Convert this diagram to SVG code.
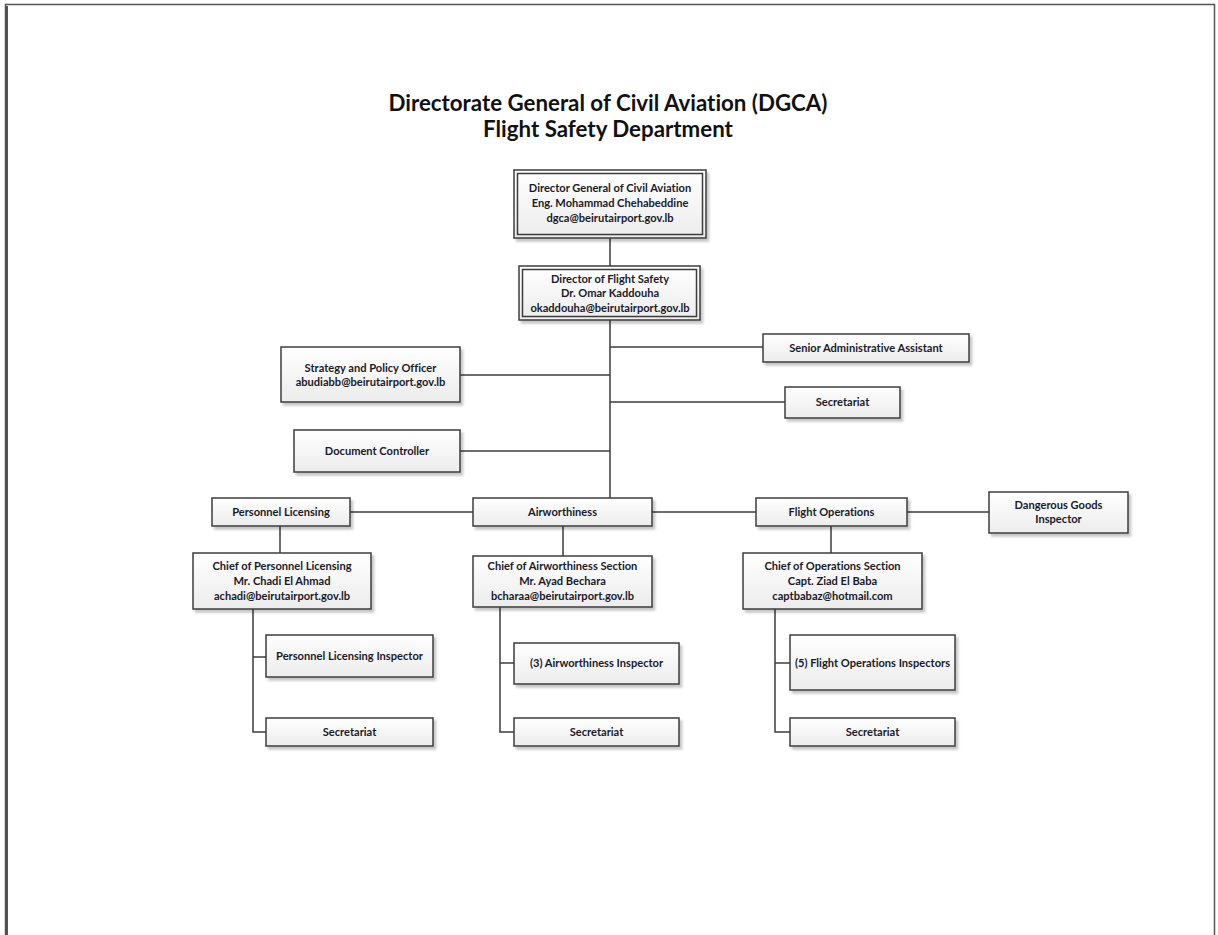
<svg xmlns="http://www.w3.org/2000/svg" width="1218" height="935" viewBox="0 0 1218 935">
<defs>
<linearGradient id="g" x1="0" y1="0" x2="0" y2="1">
<stop offset="0" stop-color="#ffffff"/>
<stop offset="1" stop-color="#ececec"/>
</linearGradient>
<filter id="sh" x="-10%" y="-10%" width="130%" height="140%">
<feDropShadow dx="2.5" dy="3" stdDeviation="1.2" flood-color="#000" flood-opacity="0.22"/>
</filter>
</defs>
<style>
text{font-variant-ligatures:none;font-feature-settings:"liga" 0,"dlig" 0}
.b{fill:url(#g);stroke:#3c3c3c;stroke-width:1.5;filter:url(#sh)}
.bi{fill:none;stroke:#3c3c3c;stroke-width:1.5}
.t{font-family:Lato,"Liberation Sans",sans-serif;font-weight:bold;font-size:11.1px;fill:#1a1a2a;text-anchor:middle}
.h{font-family:Lato,"Liberation Sans",sans-serif;font-weight:bold;font-size:22.3px;fill:#111;text-anchor:middle}
.c{fill:none;stroke:#3c3c3c;stroke-width:1.5}
</style>
<rect width="1218" height="935" fill="#fff"/>
<path d="M5.5 945 V4.5 H1214.5 V945" fill="none" stroke="#555" stroke-width="1.5"/>
<path d="M7 945 V6" fill="none" stroke="#222" stroke-width="1.5"/>
<text class="h" x="608" y="111">Directorate General of Civil Aviation (DGCA)</text>
<text class="h" x="608" y="137">Flight Safety Department</text>
<g id="connectors">
<path class="c" d="M610 238 V266"/>
<path class="c" d="M610 320 V498"/>
<path class="c" d="M610 347 H763"/>
<path class="c" d="M610 402 H785"/>
<path class="c" d="M460 375 H610"/>
<path class="c" d="M460 451 H610"/>
<path class="c" d="M350 512 H473"/>
<path class="c" d="M652 512 H756"/>
<path class="c" d="M907 512 H989"/>
<path class="c" d="M280 526 V553"/>
<path class="c" d="M563 526 V556"/>
<path class="c" d="M831 526 V553"/>
<path class="c" d="M253 609 V732 H266 M253 657 H266"/>
<path class="c" d="M500 607 V732 H514 M500 663 H514"/>
<path class="c" d="M775 609 V732 H790 M775 663 H790"/>
</g>
<g id="dg">
<rect class="b" x="514" y="170" width="192" height="68"/>
<rect class="bi" x="517.5" y="173.5" width="185" height="61"/>
<text class="t" x="610" y="192">Director General of Civil Aviation</text>
<text class="t" x="610" y="207">Eng. Mohammad Chehabeddine</text>
<text class="t" x="610" y="222">dgca@beirutairport.gov.lb</text>
</g>
<g id="dfs">
<rect class="b" x="519" y="266" width="181" height="54"/>
<rect class="bi" x="522.5" y="269.5" width="174" height="47"/>
<text class="t" x="610" y="283">Director of Flight Safety</text>
<text class="t" x="610" y="297">Dr. Omar Kaddouha</text>
<text class="t" x="610" y="312">okaddouha@beirutairport.gov.lb</text>
</g>
<g id="saa">
<rect class="b" x="763" y="334" width="206" height="28"/>
<text class="t" x="866" y="352">Senior Administrative Assistant</text>
</g>
<g id="sec0">
<rect class="b" x="785" y="387" width="115" height="31"/>
<text class="t" x="842.5" y="406">Secretariat</text>
</g>
<g id="spo">
<rect class="b" x="281" y="347" width="179" height="55"/>
<text class="t" x="370.5" y="372">Strategy and Policy Officer</text>
<text class="t" x="370.5" y="386">abudiabb@beirutairport.gov.lb</text>
</g>
<g id="doc">
<rect class="b" x="294" y="430" width="166" height="42"/>
<text class="t" x="377" y="455">Document Controller</text>
</g>
<g id="pl">
<rect class="b" x="212" y="498" width="138" height="28"/>
<text class="t" x="281" y="516">Personnel Licensing</text>
</g>
<g id="aw">
<rect class="b" x="473" y="498" width="179" height="28"/>
<text class="t" x="562.5" y="516">Airworthiness</text>
</g>
<g id="fo">
<rect class="b" x="756" y="498" width="151" height="28"/>
<text class="t" x="831.5" y="516">Flight Operations</text>
</g>
<g id="dgi">
<rect class="b" x="989" y="492" width="139" height="41"/>
<text class="t" x="1058.5" y="509">Dangerous Goods</text>
<text class="t" x="1058.5" y="523">Inspector</text>
</g>
<g id="cpl">
<rect class="b" x="193" y="553" width="178" height="56"/>
<text class="t" x="282" y="570">Chief of Personnel Licensing</text>
<text class="t" x="282" y="585">Mr. Chadi El Ahmad</text>
<text class="t" x="282" y="600">achadi@beirutairport.gov.lb</text>
</g>
<g id="caw">
<rect class="b" x="473" y="556" width="179" height="51"/>
<text class="t" x="562.5" y="570">Chief of Airworthiness Section</text>
<text class="t" x="562.5" y="585">Mr. Ayad Bechara</text>
<text class="t" x="562.5" y="600">bcharaa@beirutairport.gov.lb</text>
</g>
<g id="cop">
<rect class="b" x="743" y="553" width="179" height="56"/>
<text class="t" x="832.5" y="570">Chief of Operations Section</text>
<text class="t" x="832.5" y="585">Capt. Ziad El Baba</text>
<text class="t" x="832.5" y="600">captbabaz@hotmail.com</text>
</g>
<g id="pli">
<rect class="b" x="266" y="635" width="167" height="42"/>
<text class="t" x="349.5" y="660">Personnel Licensing Inspector</text>
</g>
<g id="sec1">
<rect class="b" x="266" y="718" width="167" height="28"/>
<text class="t" x="349.5" y="736">Secretariat</text>
</g>
<g id="awi">
<rect class="b" x="514" y="643" width="165" height="41"/>
<text class="t" x="596.5" y="667">(3) Airworthiness Inspector</text>
</g>
<g id="sec2">
<rect class="b" x="514" y="718" width="165" height="28"/>
<text class="t" x="596.5" y="736">Secretariat</text>
</g>
<g id="foi">
<rect class="b" x="790" y="635" width="165" height="55"/>
<text class="t" x="872.5" y="667">(5) Flight Operations Inspectors</text>
</g>
<g id="sec3">
<rect class="b" x="790" y="718" width="165" height="28"/>
<text class="t" x="872.5" y="736">Secretariat</text>
</g>
</svg>
